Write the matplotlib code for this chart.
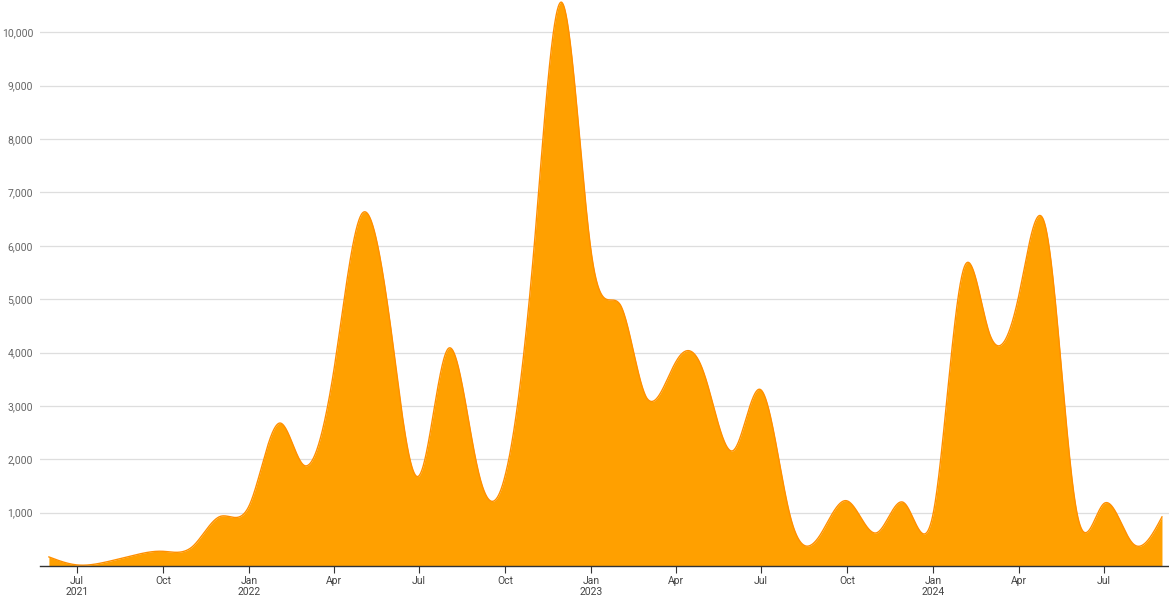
import numpy as np
import pandas as pd
import matplotlib
matplotlib.use("Agg")
import matplotlib.pyplot as plt
import matplotlib.dates as mdates
from matplotlib.ticker import FuncFormatter

# ---- data (monthly values) ----
months = pd.date_range("2021-06-01", "2024-09-01", freq="MS")
values = [
    170, 20, 75, 206, 275, 360, 930,              # Jun-Dec 2021
    1140, 2670, 1880, 3650, 6600, 4450, 1690,     # Jan-Jul 2022
    4070, 1880, 1700, 6000, 10550,                # Aug-Dec 2022
    5860, 4890, 3150, 3820, 3620, 2160, 3300,     # Jan-Jul 2023
    950, 550, 1220, 620, 1180,                    # Aug-Dec 2023
    1000, 5480, 4350, 5050, 6250, 1120, 1170,     # Jan-Jul 2024
    420, 920,                                     # Aug-Sep 2024
]
y_ticks = [1000, 2000, 3000, 4000, 5000, 6000, 7000, 8000, 9000, 10000]
x_tick_dates = pd.date_range("2021-07-01", "2024-07-01", freq="QS-JUL")

FILL = "#FFA000"
EDGE = "#FF8F00"


def natural_spline(t, y, ts):
    n = len(t)
    h = np.diff(t)
    A = np.zeros((n, n))
    b = np.zeros(n)
    A[0, 0] = 1
    A[-1, -1] = 1
    for i in range(1, n - 1):
        A[i, i - 1] = h[i - 1]
        A[i, i] = 2 * (h[i - 1] + h[i])
        A[i, i + 1] = h[i]
        b[i] = 6 * ((y[i + 1] - y[i]) / h[i] - (y[i] - y[i - 1]) / h[i - 1])
    M = np.linalg.solve(A, b)
    idx = np.clip(np.searchsorted(t, ts) - 1, 0, n - 2)
    t0, t1 = t[idx], t[idx + 1]
    hh = t1 - t0
    a = t1 - ts
    c = ts - t0
    return (M[idx] * a ** 3 / (6 * hh) + M[idx + 1] * c ** 3 / (6 * hh)
            + (y[idx] / hh - M[idx] * hh / 6) * a
            + (y[idx + 1] / hh - M[idx + 1] * hh / 6) * c)


xnum = mdates.date2num(months.to_pydatetime())
yv = np.array(values, dtype=float)
idx = np.arange(len(xnum), dtype=float)
ts = np.linspace(0, len(xnum) - 1, 3000)
xs = np.interp(ts, idx, xnum)
ys = natural_spline(idx, yv, ts)

plt.rcParams["font.family"] = ["Roboto", "DejaVu Sans"]

W, H = 1169, 596
fig = plt.figure(figsize=(W / 100, H / 100), dpi=100)
ax = fig.add_axes([40 / W, (H - 566) / H, (W - 40) / W, 566 / H])

ax.fill_between(xs, 0, ys, color=FILL, lw=0, zorder=2)
ax.plot(xs, ys, color=EDGE, lw=1.0, zorder=3)

x_left = xnum[0] - 9.5
x_right = xnum[-1] + 7.5
ax.set_xlim(x_left, x_right)
ax.set_ylim(0, 10605)

ax.set_yticks(y_ticks)
ax.yaxis.set_major_formatter(FuncFormatter(lambda v, p: f"{int(v):,}"))
ax.tick_params(axis="y", length=0, pad=5, labelsize=7.5, labelcolor="#666666")
ax.grid(axis="y", color="#dedede", lw=0.9, zorder=0)

ax.set_xticks(mdates.date2num(x_tick_dates.to_pydatetime()))
labels = []
for d in x_tick_dates:
    lab = d.strftime("%b")
    if d.month == 1 or d == x_tick_dates[0]:
        lab += "\n" + str(d.year)
    labels.append(lab)
ax.set_xticklabels(labels, linespacing=1.05)
ax.tick_params(axis="x", length=5, width=0.8, color="#333333", pad=2.5,
               labelsize=7.5, labelcolor="#444444")

for s in ["left", "right", "top"]:
    ax.spines[s].set_visible(False)
ax.spines["bottom"].set_color("#333333")
ax.spines["bottom"].set_linewidth(1.0)
ax.spines["bottom"].set_zorder(4)

fig.savefig("out.png", dpi=100)
